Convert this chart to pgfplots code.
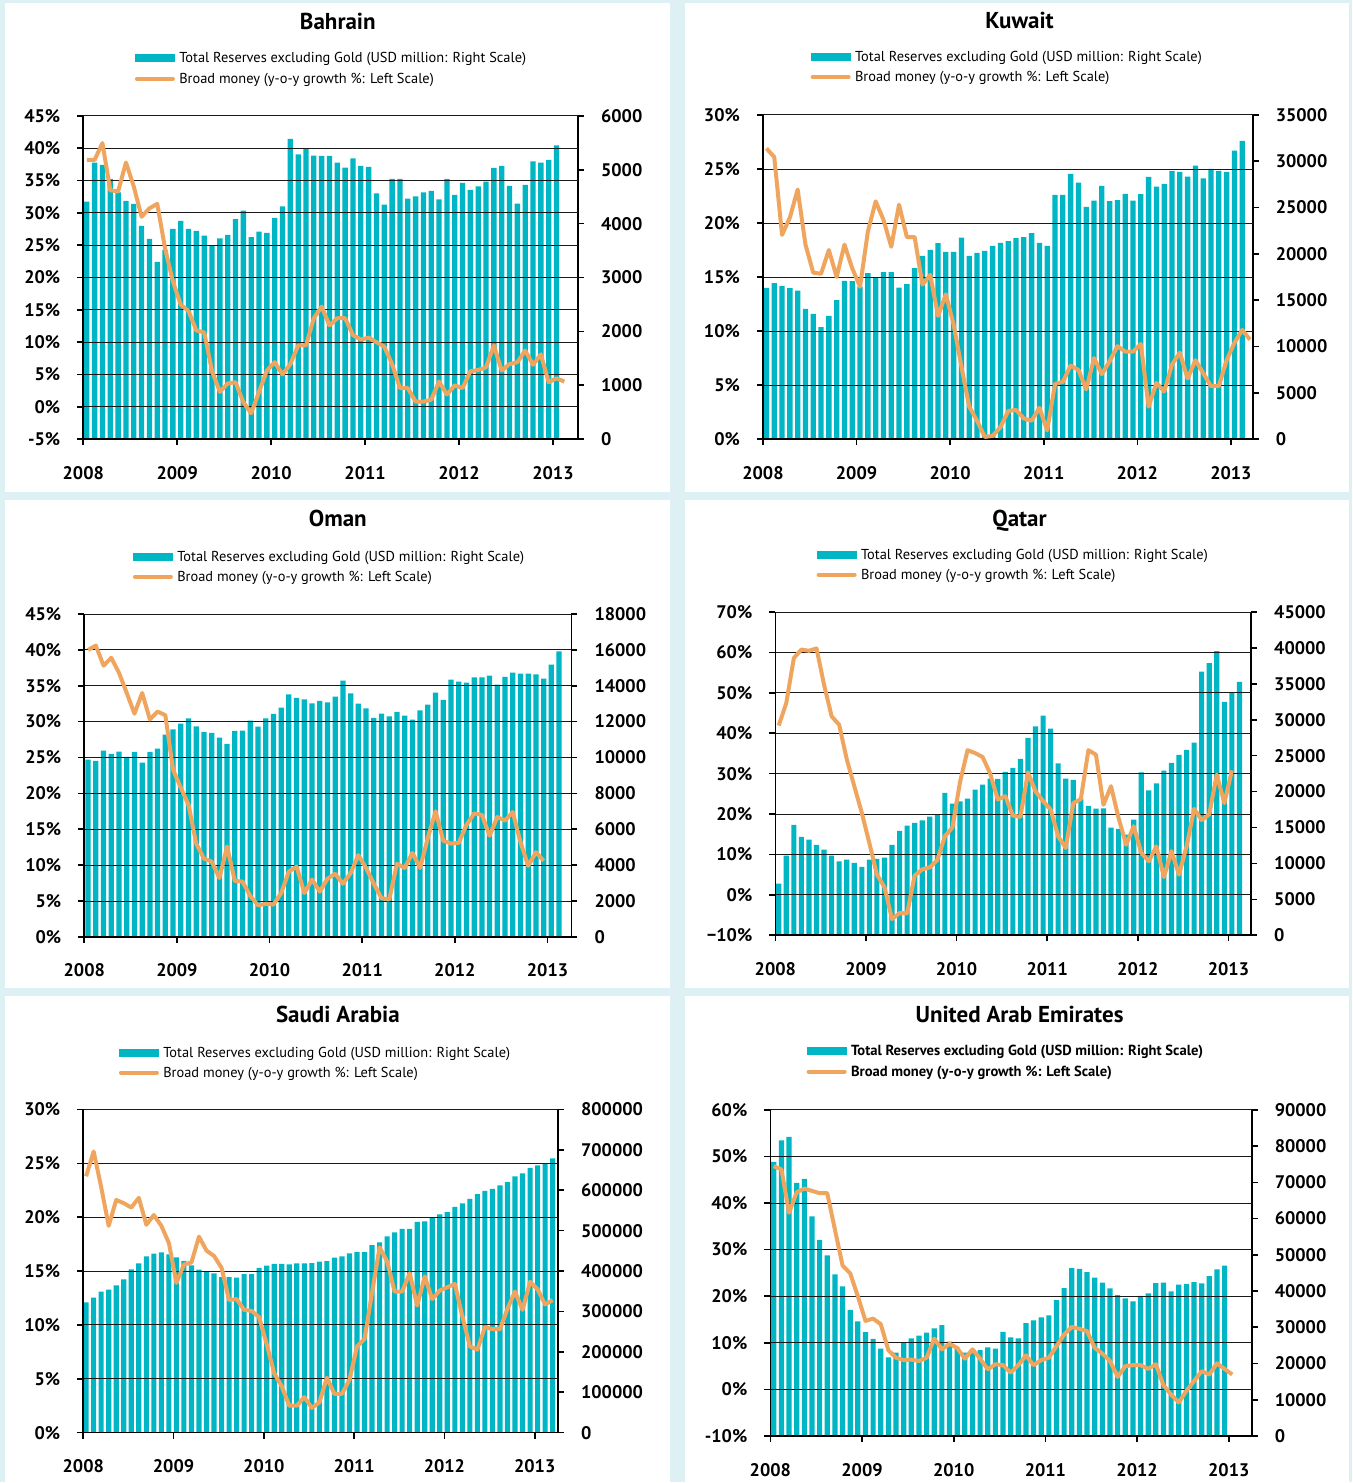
\documentclass[border=0pt]{standalone}
\usepackage{pgfplots}
\pgfplotsset{compat=1.18}
\usepackage{pgfplotstable}
\usepackage{fontspec}
\setmainfont{PT Sans}
\definecolor{bg}{RGB}{221,240,243}
\definecolor{tealb}{RGB}{0,182,196}
\definecolor{orng}{RGB}{240,165,95}

\pgfplotsset{
 common/.style={scale only axis, xmin=0,
   axis line style={line width=0.8pt, black},
   major tick length=3pt, tick style={line width=0.8pt, black},
   ticklabel style={font=\fontsize{9.1}{10.5}\selectfont\bfseries},
   scaled y ticks=false,
   /pgf/number format/.cd, 1000 sep={}, fixed, assume math mode=true},
 barax/.style={common, axis x line=none, axis y line*=right, ymin=0,
   ytick align=outside, yticklabel style={xshift=5pt}},
 lineax/.style={common, axis x line*=bottom, axis y line*=left,
   xtick={0,12,24,36,48,60}, xticklabels={2008,2009,2010,2011,2012,2013},
   ymajorgrids, grid style={black!90, line width=0.45pt},
   xtick align=outside, ytick align=outside,
   yticklabel style={xshift=-5pt}, xticklabel style={yshift=-7pt}},
 barplot/.style={ybar, bar width=0.68, bar shift=0pt, fill=tealb, draw=none},
 lineplot/.style={orng, line width=2pt, line join=round, mark=none},
}

\pgfplotstableread{
i res bm
0 4409 38.2
1 5133 38.2
2 5090 40.8
3 4830 33.5
4 4583 33.3
5 4422 37.8
6 4366 34.1
7 3958 29.4
8 3717 30.7
9 3290 31.4
10 3513 24.5
11 3902 19.4
12 4051 15.8
13 3902 14.8
14 3865 11.8
15 3779 11.5
16 3581 5.5
17 3729 2.3
18 3791 3.6
19 4082 3.8
20 4242 0.7
21 3748 -1.0
22 3853 2.3
23 3828 5.6
24 4106 6.9
25 4323 5.0
26 5572 6.6
27 5288 9.5
28 5393 9.5
29 5263 13.7
30 5257 15.5
31 5257 12.6
32 5133 13.7
33 5040 13.7
34 5213 11.1
35 5071 10.4
36 5053 10.7
37 4564 10.0
38 4354 9.3
39 4830 6.6
40 4830 2.9
41 4465 2.9
42 4508 0.8
43 4583 0.8
44 4607 1.1
45 4453 3.9
46 4830 1.9
47 4533 3.3
48 4756 2.9
49 4626 5.5
50 4694 5.7
51 4780 6.1
52 5034 9.5
53 5071 5.6
54 4700 6.6
55 4372 6.9
56 4719 8.7
57 5158 6.5
58 5133 8.1
59 5182 3.8
60 5455 4.4
61 nan 3.9
}\bahrain

\pgfplotstableread{
i res bm
0 16331 26.9
1 16834 26.1
2 16546 18.9
3 16295 20.5
4 16043 23.1
5 14065 18.0
6 13525 15.4
7 12086 15.3
8 13309 17.5
9 15000 15.0
10 17086 18.0
11 17050 15.8
12 16474 14.1
13 17913 19.2
14 17445 22.0
15 18021 20.3
16 18021 17.8
17 16366 21.7
18 16726 18.7
19 18452 18.7
20 19784 14.3
21 20431 15.2
22 21151 11.4
23 20215 13.4
24 20215 10.6
25 21762 6.7
26 19784 3.0
27 20107 1.7
28 20323 0.2
29 20863 0.3
30 21187 1.1
31 21367 2.6
32 21690 2.7
33 21798 1.9
34 22229 1.7
35 21187 2.9
36 20863 0.8
37 26366 5.1
38 26366 5.3
39 28632 6.8
40 27697 6.4
41 25071 4.6
42 25755 7.5
43 27337 6.0
44 25683 7.2
45 25791 8.6
46 26474 8.1
47 25755 8.1
48 26438 8.8
49 28308 3.0
50 27265 5.2
51 27553 4.4
52 28956 6.9
53 28848 8.0
54 28344 5.6
55 29531 7.3
56 28164 6.1
57 29172 4.9
58 28956 4.9
59 28848 7.3
60 31150 8.9
61 32193 10.1
62 nan 9.2
}\kuwait

\pgfplotstableread{
i res bm
0 9882 40.0
1 9808 40.6
2 10384 37.8
3 10198 38.9
4 10328 36.8
5 10031 34.0
6 10310 31.1
7 9715 34.0
8 10310 30.3
9 10495 31.4
10 11276 30.9
11 11573 23.3
12 11889 20.8
13 12186 18.4
14 11740 13.0
15 11424 10.9
16 11368 10.5
17 11108 8.2
18 10756 12.6
19 11480 7.8
20 11498 7.7
21 12056 5.7
22 11721 4.4
23 12186 4.6
24 12427 4.5
25 12780 6.1
26 13523 9.1
27 13319 9.8
28 13245 6.1
29 13022 8.0
30 13152 6.3
31 13078 8.1
32 13393 8.8
33 14285 7.4
34 13579 8.9
35 13003 11.4
36 12743 9.6
37 12204 7.4
38 12446 5.4
39 12297 5.2
40 12539 10.2
41 12334 9.6
42 12112 11.7
43 12632 9.6
44 12947 13.8
45 13616 17.5
46 13208 13.4
47 14341 13.0
48 14229 13.1
49 14173 15.6
50 14471 17.2
51 14474 17.0
52 14564 14.1
53 14062 16.7
54 14489 16.2
55 14731 17.4
56 14675 13.2
57 14675 9.9
58 14638 11.8
59 14396 10.6
60 15177 nan
61 15920 nan
}\oman

\pgfplotstableread{
i res bm
0 7190 41.9
1 11087 47.5
2 15355 58.6
3 13685 60.7
4 13314 60.4
5 12572 61.0
6 11922 52.0
7 11087 44.2
8 10299 42.1
9 10531 33.6
10 10067 26.9
11 9510 20.3
12 10531 12.8
13 10623 5.0
14 10809 1.9
15 12572 -6.0
16 14520 -4.5
17 15262 -4.6
18 15633 4.8
19 16005 6.3
20 16515 6.8
21 16793 8.6
22 19809 14.5
23 18324 16.7
24 18649 27.9
25 19020 35.8
26 20273 35.1
27 20969 34.1
28 21803 30.0
29 21757 23.6
30 22731 24.4
31 23288 19.6
32 24540 19.3
33 27463 30.3
34 29087 25.6
35 30571 23.2
36 28762 21.1
37 23937 14.5
38 21803 11.6
39 21618 22.7
40 18974 23.7
41 17999 35.8
42 17628 34.7
43 17675 22.3
44 14984 26.9
45 14799 19.0
46 14010 12.4
47 16097 17.0
48 22685 10.4
49 20180 8.3
50 21154 12.0
51 22917 4.4
52 23984 10.8
53 25097 5.0
54 25793 12.0
55 26813 21.3
56 36694 18.5
57 37900 19.9
58 39571 29.8
59 32473 22.7
60 33726 30.8
61 35257 nan
}\qatar

\pgfplotstableread{
i res bm
0 322470 23.8
1 334000 26.1
2 348850 22.8
3 353800 19.2
4 364500 21.6
5 379400 21.3
6 404100 20.9
7 419000 21.8
8 436300 19.3
9 442900 20.2
10 446200 19.2
11 441200 17.6
12 433800 13.9
13 425500 15.6
14 414000 15.8
15 403300 18.2
16 399200 16.9
17 394200 16.4
18 385100 15.3
19 385100 12.3
20 383500 12.4
21 392600 11.4
22 392600 11.3
23 408200 10.7
24 413200 8.2
25 418100 5.5
26 418100 4.3
27 416500 2.5
28 419000 2.5
29 419000 3.3
30 419800 2.3
31 423100 2.8
32 424700 5.1
33 433000 3.6
34 436300 3.6
35 443700 4.9
36 447800 8.0
37 447000 8.7
38 464300 13.0
39 470900 17.2
40 485700 15.9
41 495600 13.1
42 504700 13.1
43 504700 14.8
44 522000 11.8
45 522900 14.5
46 531100 12.4
47 540200 13.2
48 546000 13.5
49 559100 13.8
50 567400 10.8
51 578900 8.0
52 590500 7.7
53 598700 9.8
54 603700 9.6
55 611900 9.6
56 620200 11.5
57 634200 13.1
58 641600 11.4
59 655600 14.0
60 661400 13.3
61 665500 11.9
62 678700 12.3
}\saudi

\pgfplotstableread{
i res bm
0 75660 47.9
1 81540 47.2
2 82550 37.9
3 69870 42.3
4 70970 43.1
5 60580 42.6
6 54150 42.1
7 49830 42.1
8 44590 34.3
9 41280 26.6
10 34840 24.9
11 31620 20.0
12 28680 14.7
13 26840 15.2
14 24090 14.0
15 21700 8.4
16 22980 6.8
17 25830 6.3
18 26940 6.4
19 27670 6.1
20 28500 6.8
21 29690 10.9
22 30610 8.6
23 26020 9.8
24 24360 8.9
25 22980 6.6
26 23900 8.6
27 23720 6.6
28 24450 4.3
29 24090 5.4
30 28770 5.2
31 27210 3.6
32 26940 5.2
33 31160 7.3
34 31900 5.2
35 32730 6.3
36 33280 6.8
37 37510 9.3
38 40820 11.8
39 46330 13.4
40 46150 13.0
41 45230 12.5
42 43670 8.9
43 42290 7.7
44 40730 6.1
45 38890 2.7
46 37970 5.0
47 37140 5.2
48 38700 5.2
49 39350 4.4
50 42200 5.4
51 42290 0.9
52 39900 -1.1
53 41740 -2.8
54 42010 -0.3
55 42470 1.8
56 42100 3.9
57 44130 3.2
58 45970 5.6
59 46980 4.4
60 nan 3.2
}\uae

\newcommand{\legendrows}[4][]{% [font extra] x0, y1, y2 (pt)
  \fill[tealb] (#2pt,{#3pt-2pt}) rectangle ({#2pt+20pt},{#3pt+2pt});
  \draw[orng, line width=2pt, line cap=round] ({#2pt+1pt},#4pt) -- ({#2pt+19pt},#4pt);
  \node[anchor=west, inner sep=0pt, font=\fontsize{7.2}{8.6}\selectfont#1] at ({#2pt+22pt},{#3pt-0.6pt}) {Total Reserves excluding Gold (USD million: Right Scale)};
  \node[anchor=west, inner sep=0pt, font=\fontsize{7.2}{8.6}\selectfont#1] at ({#2pt+22pt},{#4pt-0.6pt}) {Broad money (y-o-y growth \%: Left Scale)};
}
\newcommand{\ptitle}[3]{\node[font=\fontsize{11.5}{13}\selectfont\bfseries] at (#1pt,#2pt) {#3};}

\begin{document}
\begin{tikzpicture}
\fill[bg] (0pt,0pt) rectangle (676.5pt,741.5pt);
\fill[white] (2.5pt,495.5pt) rectangle (335pt,740pt);
\fill[white] (342.5pt,495.5pt) rectangle (675pt,740pt);
\fill[white] (2.5pt,247.5pt) rectangle (335pt,491.5pt);
\fill[white] (342.5pt,247.5pt) rectangle (675pt,491.5pt);
\fill[white] (2.5pt,0pt) rectangle (335pt,243.5pt);
\fill[white] (342.5pt,0pt) rectangle (675pt,243.5pt);

\ptitle{169}{731}{Bahrain}
\ptitle{510}{731}{Kuwait}
\ptitle{169}{482}{Oman}
\ptitle{510}{481}{Qatar}
\ptitle{169}{234}{Saudi Arabia}
\ptitle{510}{234}{United Arab Emirates}

\legendrows{67.5}{712.5}{702}
\legendrows{405.5}{713}{703}
\legendrows{66.5}{463}{453}
\legendrows{408.5}{464}{454}
\legendrows{59.5}{215}{205}
\legendrows[\bfseries\fontsize{7.3}{8.7}\selectfont]{403.5}{216}{205.5}

% ---------------- Bahrain
\begin{axis}[barax, at={(41.65pt,521.85pt)}, anchor=south west, width=247.5pt, height=161.65pt,
  xmax=63.2, ymax=6000, ytick={0,1000,...,6000}]
\addplot[barplot] table[x expr=\thisrow{i}+0.45, y=res] {\bahrain};
\end{axis}
\begin{axis}[lineax, at={(41.65pt,521.85pt)}, anchor=south west, width=247.5pt, height=161.65pt,
  xmax=63.2, ymin=-5, ymax=45, ytick={-5,0,...,45},
  yticklabels={-5\%,0\%,5\%,10\%,15\%,20\%,25\%,30\%,35\%,40\%,45\%}]
\addplot[lineplot] table[x expr=\thisrow{i}+0.45, y=bm] {\bahrain};
\end{axis}

% ---------------- Kuwait
\begin{axis}[barax, at={(381.65pt,521.85pt)}, anchor=south west, width=245pt, height=162.15pt,
  xmax=62.8, ymax=35000, ytick={0,5000,...,35000}]
\addplot[barplot] table[x expr=\thisrow{i}+0.45, y=res] {\kuwait};
\end{axis}
\begin{axis}[lineax, at={(381.65pt,521.85pt)}, anchor=south west, width=245pt, height=162.15pt,
  xmax=62.8, ymin=0, ymax=30, ytick={0,5,...,30},
  yticklabels={0\%,5\%,10\%,15\%,20\%,25\%,30\%}]
\addplot[lineplot] table[x expr=\thisrow{i}+0.45, y=bm] {\kuwait};
\end{axis}

% ---------------- Oman
\begin{axis}[barax, at={(42.15pt,272.85pt)}, anchor=south west, width=243.7pt, height=161.5pt,
  xmax=63.1, ymax=18000, ytick={0,2000,...,18000}]
\addplot[barplot] table[x expr=\thisrow{i}+0.5, y=res] {\oman};
\end{axis}
\begin{axis}[lineax, at={(42.15pt,272.85pt)}, anchor=south west, width=243.7pt, height=161.5pt,
  xmax=63.1, ymin=0, ymax=45, ytick={0,5,...,45},
  yticklabels={0\%,5\%,10\%,15\%,20\%,25\%,30\%,35\%,40\%,45\%}]
\addplot[lineplot] table[x expr=\thisrow{i}+0.5, y=bm] {\oman};
\end{axis}

% ---------------- Qatar
\begin{axis}[barax, at={(387.85pt,273.65pt)}, anchor=south west, width=238pt, height=161.7pt,
  xmax=63.0, ymax=45000, ytick={0,5000,...,45000}]
\addplot[barplot] table[x expr=\thisrow{i}+0.45, y=res] {\qatar};
\end{axis}
\begin{axis}[lineax, at={(387.85pt,273.65pt)}, anchor=south west, width=238pt, height=161.7pt,
  xmax=63.0, ymin=-10, ymax=70, ytick={-10,0,...,70},
  yticklabels={−10\%,0\%,10\%,20\%,30\%,40\%,50\%,60\%,70\%}]
\addplot[lineplot] table[x expr=\thisrow{i}+0.45, y=bm] {\qatar};
\end{axis}

% ---------------- Saudi Arabia
\begin{axis}[barax, at={(41.65pt,24.85pt)}, anchor=south west, width=237.5pt, height=161.65pt,
  xmax=63.1, ymax=800000, ytick={0,100000,...,800000}]
\addplot[barplot] table[x expr=\thisrow{i}+0.38, y=res] {\saudi};
\end{axis}
\begin{axis}[lineax, at={(41.65pt,24.85pt)}, anchor=south west, width=237.5pt, height=161.65pt,
  xmax=63.1, ymin=0, ymax=30, ytick={0,5,...,30},
  yticklabels={0\%,5\%,10\%,15\%,20\%,25\%,30\%}]
\addplot[lineplot] table[x expr=\thisrow{i}+0.38, y=bm] {\saudi};
\end{axis}

% ---------------- UAE
\begin{axis}[barax, at={(385.35pt,23.15pt)}, anchor=south west, width=240.8pt, height=163.2pt,
  xmax=63.0, ymax=90000, ytick={0,10000,...,90000}]
\addplot[barplot] table[x expr=\thisrow{i}+0.45, y=res] {\uae};
\end{axis}
\begin{axis}[lineax, at={(385.35pt,23.15pt)}, anchor=south west, width=240.8pt, height=163.2pt,
  xmax=63.0, ymin=-10, ymax=60, ytick={-10,0,...,60},
  yticklabels={-10\%,0\%,10\%,20\%,30\%,40\%,50\%,60\%}]
\addplot[lineplot] table[x expr=\thisrow{i}+0.45, y=bm] {\uae};
\end{axis}
\end{tikzpicture}
\end{document}
